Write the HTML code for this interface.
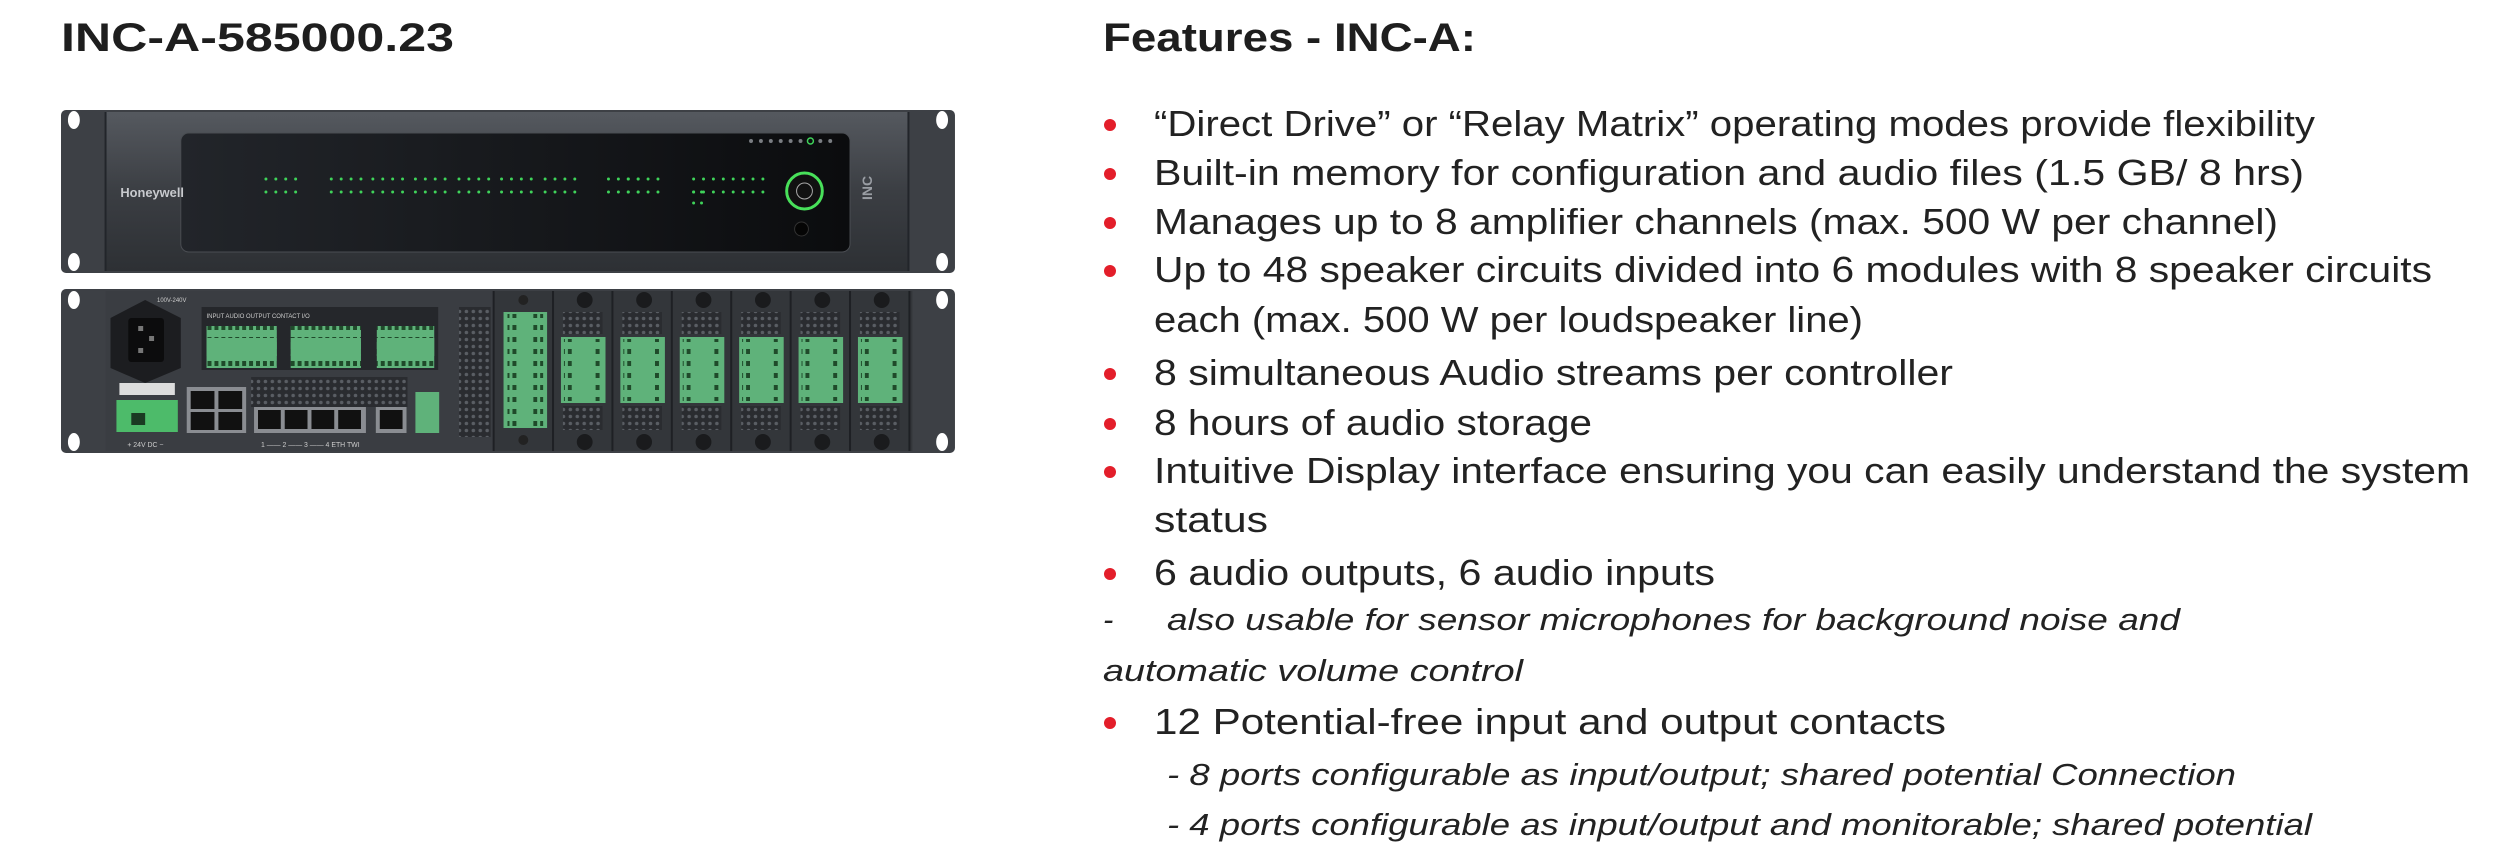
<!DOCTYPE html>
<html><head><meta charset="utf-8"><style>
html,body{margin:0;padding:0;background:#fff;}
body{width:2513px;height:865px;overflow:hidden;position:relative;}
svg{position:absolute;left:0;top:0;}
</style></head><body>
<svg width="2513" height="865" viewBox="0 0 2513 865" xmlns="http://www.w3.org/2000/svg">
<defs>
<linearGradient id="fp" x1="0" y1="0" x2="0" y2="1"><stop offset="0" stop-color="#55595f"/><stop offset="0.5" stop-color="#3b3e43"/><stop offset="1" stop-color="#2d3034"/></linearGradient>
<linearGradient id="disp" x1="0" y1="0" x2="1" y2="0"><stop offset="0" stop-color="#22252a"/><stop offset="1" stop-color="#0b0c0e"/></linearGradient>
<pattern id="vent" width="7" height="7" patternUnits="userSpaceOnUse"><rect width="7" height="7" fill="#2a2c30"/><circle cx="3.5" cy="3.5" r="1.8" fill="#5a5e64"/></pattern>
<pattern id="term" width="7" height="12" patternUnits="userSpaceOnUse"><rect width="7" height="12" fill="#5fb27a"/><rect x="1" y="1" width="4" height="5" fill="#1f4a2a"/></pattern>
</defs>

<text x="61" y="51" font-family="Liberation Sans, sans-serif" font-weight="bold" font-size="40" fill="#1e1e1e" textLength="393" lengthAdjust="spacingAndGlyphs">INC-A-585000.23</text>
<text x="1103" y="51" font-family="Liberation Sans, sans-serif" font-weight="bold" font-size="40" fill="#1e1e1e" textLength="373" lengthAdjust="spacingAndGlyphs">Features - INC-A:</text>

<g transform="translate(61,0) scale(0.990,1) translate(-63,0)">
<!-- FRONT PANEL -->
<rect x="63" y="110" width="903" height="163" rx="5" fill="#3d4045"/>
<rect x="108" y="112" width="811" height="159" fill="url(#fp)"/>
<line x1="108" y1="112" x2="108" y2="271" stroke="#22252a" stroke-width="2"/>
<line x1="919" y1="112" x2="919" y2="271" stroke="#22252a" stroke-width="2"/>
<ellipse cx="76" cy="120" rx="6" ry="9" fill="#fff"/>
<ellipse cx="76" cy="262" rx="6" ry="9" fill="#fff"/>
<ellipse cx="953" cy="120" rx="6" ry="9" fill="#fff"/>
<ellipse cx="953" cy="262" rx="6" ry="9" fill="#fff"/>
<rect x="184" y="133" width="676" height="119" rx="8" fill="url(#disp)" stroke="#4a4d52" stroke-width="1"/>
<text x="123" y="197" font-family="Liberation Sans, sans-serif" font-weight="bold" font-size="13" fill="#c8cace">Honeywell</text>
<g fill="#3fd35a">
<g id="g4"><circle cx="270" cy="179" r="1.5"/><circle cx="280" cy="179" r="1.5"/><circle cx="290" cy="179" r="1.5"/><circle cx="300" cy="179" r="1.5"/><circle cx="270" cy="192" r="1.5"/><circle cx="280" cy="192" r="1.5"/><circle cx="290" cy="192" r="1.5"/><circle cx="300" cy="192" r="1.5"/></g>
<use href="#g4" x="66"/><use href="#g4" x="108"/><use href="#g4" x="151"/><use href="#g4" x="195"/><use href="#g4" x="238"/><use href="#g4" x="282"/>
<use href="#g4" x="346"/><use href="#g4" x="366"/>
<use href="#g4" x="432"/><use href="#g4" x="472"/>
<circle cx="702" cy="192" r="1.5"/><circle cx="710" cy="192" r="1.5"/><circle cx="702" cy="203" r="1.5"/><circle cx="710" cy="203" r="1.5"/>
</g>
<g fill="#7a7d82"><circle cx="760" cy="141" r="2"/><circle cx="770" cy="141" r="2"/><circle cx="780" cy="141" r="2"/><circle cx="790" cy="141" r="2"/><circle cx="800" cy="141" r="2"/><circle cx="810" cy="141" r="2"/><circle cx="830" cy="141" r="2"/><circle cx="840" cy="141" r="2"/></g>
<circle cx="820" cy="141" r="3" fill="none" stroke="#3fd35a" stroke-width="1.5"/>
<circle cx="814" cy="191" r="18" fill="#111" stroke="#48e05a" stroke-width="3"/>
<circle cx="814" cy="191" r="8" fill="none" stroke="#aaa" stroke-width="1"/>
<circle cx="811" cy="229" r="7" fill="#050505" stroke="#333"/>
<text x="882" y="200" font-family="Liberation Sans, sans-serif" font-weight="bold" font-size="14" fill="#9a9ea4" transform="rotate(-90 882 200)">INC</text>

<!-- REAR PANEL -->
<rect x="63" y="289" width="903" height="164" rx="5" fill="#3d4045"/>
<rect x="108" y="291" width="392" height="160" fill="#3a3d42"/>
<ellipse cx="76" cy="300" rx="6" ry="9" fill="#fff"/>
<ellipse cx="76" cy="442" rx="6" ry="9" fill="#fff"/>
<ellipse cx="953" cy="300" rx="6" ry="9" fill="#fff"/>
<ellipse cx="953" cy="442" rx="6" ry="9" fill="#fff"/>
<polygon points="148,300 184,318 184,368 148,383 113,368 113,318" fill="#1c1d20"/>
<rect x="131" y="318" width="36" height="44" rx="3" fill="#0c0c0d"/>
<rect x="141" y="326" width="5" height="5" fill="#777"/><rect x="152" y="336" width="5" height="5" fill="#777"/><rect x="141" y="348" width="5" height="5" fill="#777"/>
<text x="160" y="302" font-family="Liberation Sans, sans-serif" font-size="6" fill="#ccc">100V-240V</text>
<rect x="205" y="307" width="239" height="63" fill="#25272b"/>
<rect x="210" y="326" width="71" height="42" fill="url(#term)"/>
<rect x="295" y="326" width="71" height="42" fill="url(#term)"/>
<rect x="382" y="326" width="58" height="42" fill="url(#term)"/>
<rect x="210" y="338" width="71" height="18" fill="#5fb27a"/>
<rect x="295" y="338" width="71" height="18" fill="#5fb27a"/>
<rect x="382" y="338" width="58" height="18" fill="#5fb27a"/>
<text x="210" y="318" font-family="Liberation Sans, sans-serif" font-size="6" fill="#ccc">INPUT          AUDIO          OUTPUT      CONTACT I/O</text>
<rect x="465" y="307" width="32" height="130" fill="url(#vent)"/>
<rect x="255" y="377" width="158" height="30" fill="url(#vent)"/>
<rect x="190" y="387" width="60" height="46" fill="#8a8d92"/>
<rect x="194" y="391" width="24" height="18" fill="#111"/><rect x="222" y="391" width="24" height="18" fill="#111"/>
<rect x="194" y="412" width="24" height="18" fill="#111"/><rect x="222" y="412" width="24" height="18" fill="#111"/>
<rect x="258" y="407" width="113" height="26" fill="#8a8d92"/>
<rect x="262" y="410" width="23" height="19" fill="#111"/><rect x="289" y="410" width="23" height="19" fill="#111"/><rect x="316" y="410" width="23" height="19" fill="#111"/><rect x="343" y="410" width="23" height="19" fill="#111"/>
<rect x="381" y="407" width="31" height="26" fill="#8a8d92"/><rect x="385" y="410" width="23" height="19" fill="#111"/>
<rect x="421" y="392" width="24" height="41" fill="#5fb27a"/>
<rect x="119" y="400" width="62" height="32" fill="#4dbb6a"/>
<rect x="134" y="413" width="14" height="12" fill="#1a3a22"/>
<rect x="122" y="383" width="56" height="12" fill="#ddd"/>
<text x="130" y="447" font-family="Liberation Sans, sans-serif" font-size="7" fill="#ccc">+ 24V DC −</text>
<text x="265" y="447" font-family="Liberation Sans, sans-serif" font-size="7" fill="#ccc">1 —— 2 —— 3 —— 4 ETH      TWI</text>
<rect x="500" y="291" width="423" height="160" fill="#33363a"/>
<g stroke="#1e2024" stroke-width="2"><line x1="500" y1="291" x2="500" y2="451"/><line x1="560" y1="291" x2="560" y2="451"/><line x1="620" y1="291" x2="620" y2="451"/><line x1="680" y1="291" x2="680" y2="451"/><line x1="740" y1="291" x2="740" y2="451"/><line x1="800" y1="291" x2="800" y2="451"/><line x1="860" y1="291" x2="860" y2="451"/><line x1="920" y1="291" x2="920" y2="451"/></g>
<rect x="510" y="312" width="44" height="116" fill="#5fb27a"/>
<rect x="514" y="314" width="10" height="112" fill="url(#term)"/><rect x="540" y="314" width="10" height="112" fill="url(#term)"/>
<circle cx="530" cy="300" r="5" fill="#222"/><circle cx="530" cy="440" r="5" fill="#222"/>
<g id="mod">
<rect x="570" y="312" width="40" height="22" fill="url(#vent)"/>
<rect x="570" y="406" width="40" height="24" fill="url(#vent)"/>
<rect x="568" y="337" width="45" height="66" fill="#5fb27a"/>
<rect x="571" y="339" width="8" height="62" fill="url(#term)"/><rect x="601" y="339" width="8" height="62" fill="url(#term)"/>
<circle cx="592" cy="300" r="8" fill="#1a1b1d"/><circle cx="592" cy="442" r="8" fill="#1a1b1d"/>
</g>
<use href="#mod" x="60"/><use href="#mod" x="120"/><use href="#mod" x="180"/><use href="#mod" x="240"/><use href="#mod" x="300"/>
</g>

<g fill="#e31e2a">
<circle cx="1110" cy="125" r="6"/><circle cx="1110" cy="174" r="6"/><circle cx="1110" cy="223" r="6"/><circle cx="1110" cy="271" r="6"/>
<circle cx="1110" cy="374" r="6"/><circle cx="1110" cy="424" r="6"/><circle cx="1110" cy="472" r="6"/><circle cx="1110" cy="574" r="6"/><circle cx="1110" cy="723" r="6"/>
</g>
<g font-family="Liberation Sans, sans-serif" font-size="36" fill="#222">
<text x="1154" y="136" textLength="1161" lengthAdjust="spacingAndGlyphs">“Direct Drive” or “Relay Matrix” operating modes provide flexibility</text>
<text x="1154" y="185" textLength="1150" lengthAdjust="spacingAndGlyphs">Built-in memory for configuration and audio files (1.5 GB/ 8 hrs)</text>
<text x="1154" y="234" textLength="1124" lengthAdjust="spacingAndGlyphs">Manages up to 8 amplifier channels (max. 500 W per channel)</text>
<text x="1154" y="282" textLength="1278" lengthAdjust="spacingAndGlyphs">Up to 48 speaker circuits divided into 6 modules with 8 speaker circuits</text>
<text x="1154" y="332" textLength="709" lengthAdjust="spacingAndGlyphs">each (max. 500 W per loudspeaker line)</text>
<text x="1154" y="385" textLength="799" lengthAdjust="spacingAndGlyphs">8 simultaneous Audio streams per controller</text>
<text x="1154" y="435" textLength="438" lengthAdjust="spacingAndGlyphs">8 hours of audio storage</text>
<text x="1154" y="483" textLength="1316" lengthAdjust="spacingAndGlyphs">Intuitive Display interface ensuring you can easily understand the system</text>
<text x="1154" y="532" textLength="114" lengthAdjust="spacingAndGlyphs">status</text>
<text x="1154" y="585" textLength="561" lengthAdjust="spacingAndGlyphs">6 audio outputs, 6 audio inputs</text>
<text x="1154" y="734" textLength="792" lengthAdjust="spacingAndGlyphs">12 Potential-free input and output contacts</text>
</g>
<g font-family="Liberation Sans, sans-serif" font-style="italic" font-size="31" fill="#222">
<text x="1103" y="630">-</text>
<text x="1167" y="630" textLength="1013" lengthAdjust="spacingAndGlyphs">also usable for sensor microphones for background noise and</text>
<text x="1103" y="681" textLength="420" lengthAdjust="spacingAndGlyphs">automatic volume control</text>
<text x="1167" y="785" textLength="1069" lengthAdjust="spacingAndGlyphs">- 8 ports configurable as input/output; shared potential Connection</text>
<text x="1167" y="835" textLength="1145" lengthAdjust="spacingAndGlyphs">- 4 ports configurable as input/output and monitorable; shared potential</text>
</g>
</svg>
</body></html>
